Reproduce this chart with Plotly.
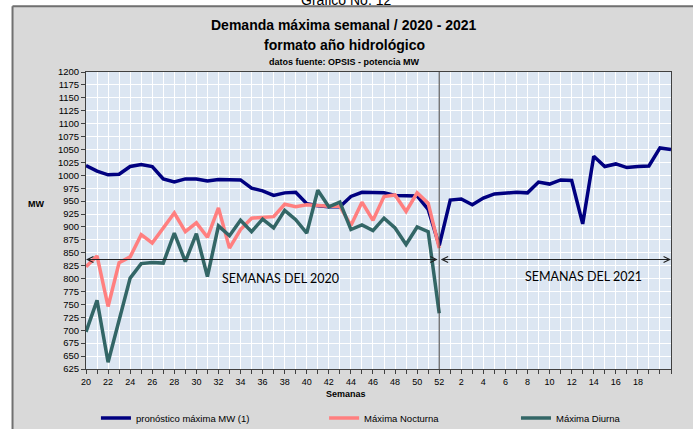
import plotly.graph_objects as go

# ---------------- data ----------------
weeks_2020 = list(range(20, 53))          # semanas 20..52 (2020)
weeks_2021 = list(range(1, 22))           # semanas 1..21 (2021)
weeks = weeks_2020 + weeks_2021

pronostico = [1019, 1008, 1001, 1002, 1017, 1021, 1017, 993, 987, 993, 993, 989, 992, 991, 991,
              975, 970, 961, 966, 967, 945, 941, 939, 939, 959, 967, 967, 966, 961, 960, 960, 934, 864,
              952, 954, 943, 956, 964, 966, 967, 966, 987, 983, 991, 990, 906, 1037, 1017, 1022,
              1015, 1017, 1018, 1053, 1050]
nocturna = [823, 844, 746, 831, 842, 885, 869, 898, 927, 891, 908, 880, 937, 859, 895, 917, 919,
            920, 944, 939, 943, 941, 940, 940, 903, 948, 913, 959, 962, 930, 966, 946, 859]
diurna = [697, 758, 638, 717, 801, 829, 831, 830, 888, 833, 887, 804, 902, 883, 913, 891, 915,
          898, 932, 914, 888, 971, 939, 948, 895, 904, 893, 917, 898, 866, 900, 891, 733]

# tick labels shown every second week (the last ones are left blank as in the original)
tick_labels = [str(w) if (i % 2 == 0 and i <= 50) else "" for i, w in enumerate(weeks)]
y_ticks = list(range(625, 1201, 25))

x_idx = list(range(len(weeks)))
pad = [None] * (len(weeks) - len(nocturna))

series_names = ["pronóstico máxima MW (1)", "Máxima Nocturna", "Máxima Diurna"]
series_colors = ["#000080", "#FF7F7F", "#336666"]

fig = go.Figure()
fig.add_trace(go.Scatter(x=x_idx, y=pronostico, mode="lines", name=series_names[0],
                         line=dict(color=series_colors[0], width=3.5), legend="legend"))
fig.add_trace(go.Scatter(x=x_idx, y=nocturna + pad, mode="lines", name=series_names[1],
                         line=dict(color=series_colors[1], width=3.5), legend="legend2"))
fig.add_trace(go.Scatter(x=x_idx, y=diurna + pad, mode="lines", name=series_names[2],
                         line=dict(color=series_colors[2], width=3.5), legend="legend3"))

sep = weeks_2020.index(52)
last = len(weeks) - 1
arrow_y = 837

fig.update_layout(
    width=693, height=429,
    margin=dict(l=86, r=22, t=72, b=60, autoexpand=False),
    paper_bgcolor="#D9D9D9",
    plot_bgcolor="#DCE6F2",
    font=dict(family="Liberation Sans, Arial, sans-serif", size=9, color="#000000"),
    xaxis=dict(range=[0, last], tickmode="array", tickvals=x_idx, ticktext=tick_labels,
               showgrid=True, gridcolor="#FFFFFF", gridwidth=1, zeroline=False,
               showline=True, linecolor="#404040", linewidth=1, mirror=True,
               ticks="outside", ticklen=4, tickcolor="#404040", tickfont=dict(size=9)),
    yaxis=dict(range=[625, 1200], tickmode="array", tickvals=y_ticks,
               showgrid=True, gridcolor="#FFFFFF", gridwidth=1, zeroline=False,
               showline=True, linecolor="#404040", linewidth=1, mirror=True,
               ticks="outside", ticklen=4, tickcolor="#404040", tickfont=dict(size=9.5)),
    legend=dict(orientation="h", x=0.017, y=-0.165, xanchor="left", yanchor="middle",
                bgcolor="rgba(0,0,0,0)", font=dict(size=9.5)),
    legend2=dict(orientation="h", x=0.407, y=-0.165, xanchor="left", yanchor="middle",
                 bgcolor="rgba(0,0,0,0)", font=dict(size=9.5)),
    legend3=dict(orientation="h", x=0.735, y=-0.165, xanchor="left", yanchor="middle",
                 bgcolor="rgba(0,0,0,0)", font=dict(size=9.5)),
    showlegend=True,
)

# outer frame (white strips outside the gray box + dark border)
fig.add_shape(type="rect", xref="paper", yref="paper", x0=-0.2, x1=1.1, y0=1.2229, y1=1.3,
              fillcolor="#FFFFFF", line=dict(width=0), layer="below")
fig.add_shape(type="rect", xref="paper", yref="paper", x0=-0.2, x1=-0.1265, y0=-0.3, y1=1.3,
              fillcolor="#FFFFFF", line=dict(width=0), layer="below")
fig.add_shape(type="line", xref="paper", yref="paper", x0=-0.1256, x1=1.1, y0=1.2212, y1=1.2212,
              line=dict(color="#707070", width=2))
fig.add_shape(type="line", xref="paper", yref="paper", x0=-0.1256, x1=-0.1256, y0=-0.3, y1=1.2212,
              line=dict(color="#707070", width=2))

# separator between years
fig.add_shape(type="line", xref="x", yref="paper", x0=sep, x1=sep, y0=0, y1=1,
              line=dict(color="#404040", width=1))

# double arrows
fig.add_annotation(x=0, y=arrow_y, ax=sep, ay=arrow_y, xref="x", yref="y", axref="x", ayref="y",
                   text="", showarrow=True, arrowhead=5, startarrowhead=5, arrowside="end+start",
                   arrowsize=1.2, arrowwidth=1, arrowcolor="#202020")
fig.add_annotation(x=last, y=arrow_y, ax=sep, ay=arrow_y, xref="x", yref="y", axref="x", ayref="y",
                   text="", showarrow=True, arrowhead=5, startarrowhead=5, arrowside="end+start",
                   arrowsize=1.2, arrowwidth=1, arrowcolor="#202020")

fig.add_annotation(x=17.6, y=800, xref="x", yref="y", text="SEMANAS DEL 2020", showarrow=False,
                   font=dict(family="Lato, Carlito, Calibri, sans-serif", size=12.5, color="#000000"))
fig.add_annotation(x=45.05, y=804, xref="x", yref="y", text="SEMANAS DEL 2021", showarrow=False,
                   font=dict(family="Lato, Carlito, Calibri, sans-serif", size=12.5, color="#000000"))


def paper_text(px, py, text, size):
    fig.add_annotation(x=(px - 86) / 585, y=(369 - py) / 297, xref="paper", yref="paper",
                       xanchor="center", yanchor="middle", showarrow=False,
                       text=text, font=dict(size=size))


# titles
paper_text(344, 25, "<b>Demanda máxima semanal / 2020 - 2021</b>", 14)
paper_text(344, 45, "<b>formato año hidrológico</b>", 14)
paper_text(344, 62, "<b>datos fuente: OPSIS - potencia MW</b>", 9)
paper_text(346, 0, "Gráfico No. 12", 14)

# axis titles
paper_text(36, 204, "<b>MW</b>", 9)
paper_text(346, 394, "<b>Semanas</b>", 9)

fig.write_html("out.html", post_script="document.body.style.margin='0';",
               config={"displayModeBar": False})
